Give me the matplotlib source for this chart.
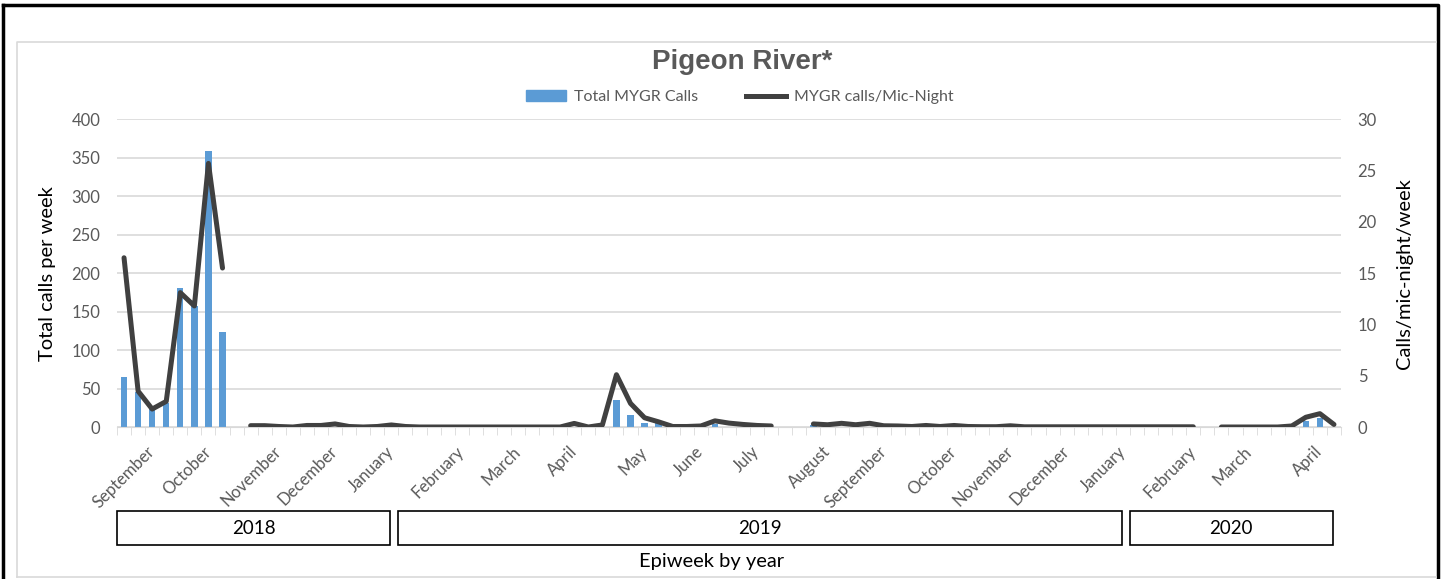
import numpy as np
import matplotlib
matplotlib.use('Agg')
import matplotlib.pyplot as plt
from matplotlib.patches import Rectangle
from matplotlib.lines import Line2D
from matplotlib.transforms import blended_transform_factory

nan = np.nan
# weekly series, Sept 2018 .. Apr 2020 (87 epiweeks), nan = no recording
total_calls = [65, 46, 25, 31, 181, 157, 359, 124, nan,
               0, 0, 0, 0, 0, 0, 0, 0, 0, 0, 0, 0, 0, 0, 0, 0, 0, 0, 0, 0, 0, 0, 0, 0, 0, 0,
               35, 16, 5, 5, 0, 0, 0, 4, 0, 0, 0, 0, nan, nan,
               2, 0, 0, 0, 0, 0, 0, 0, 0, 0, 0, 0, 0, 0, 0, 0, 0, 0, 0, 0, 0, 0, 0, 0, 0, 0, 0, 0, nan,
               0, 0, 0, 0, 0, 0, 8, 12, 0]
calls_per_mic_night = [16.5, 3.5, 1.75, 2.5, 13.1, 11.8, 25.7, 15.5, nan,
                       0.13, 0.13, 0.05, 0.0, 0.15, 0.15, 0.3, 0.05, 0.0, 0.05, 0.2, 0.05,
                       0, 0, 0, 0, 0, 0, 0, 0, 0, 0, 0, 0.35, 0.0, 0.2,
                       5.1, 2.3, 0.9, 0.5, 0.05, 0.05, 0.1, 0.6, 0.38, 0.25, 0.15, 0.1, nan, nan,
                       0.3, 0.22, 0.36, 0.22, 0.36, 0.12, 0.1, 0.05, 0.15, 0.05, 0.15, 0.05, 0.03, 0.03,
                       0.12, 0.02, 0.02, 0.02, 0.02, 0.02, 0.02, 0.02, 0.02, 0.02, 0.02, 0.02, 0.02, 0.02, nan,
                       0, 0, 0, 0, 0, 0.1, 0.95, 1.3, 0.25]
month_labels = ['September', 'October', 'November', 'December', 'January', 'February', 'March',
                'April', 'May', 'June', 'July', 'August', 'September', 'October', 'November',
                'December', 'January', 'February', 'March', 'April']
month_week = [2, 6, 11, 15, 19, 24, 28, 32, 37, 41, 45, 50, 54, 59, 63, 67, 71, 76, 80, 85]
years = ['2018', '2019', '2020']
year_first = [0, 20, 72]
year_last = [19, 71, 86]

plt.rcParams['font.family'] = ['Lato', 'DejaVu Sans']
GRAY = '#595959'
BLUE = '#5b9bd5'
LINE = '#404040'

weeks = np.arange(len(total_calls))
fig = plt.figure(figsize=(14.42, 5.79), dpi=100)
ax = fig.add_axes([117/1442, 1-427/579, (1341-117)/1442, (427-119.3)/579])
ax2 = ax.twinx()

ax.bar(weeks, total_calls, width=0.45, color=BLUE, zorder=2)
ax2.plot(weeks, calls_per_mic_night, color=LINE, lw=3.6, solid_capstyle='round',
         solid_joinstyle='round', zorder=3)

ax.set_xlim(-0.5, len(weeks)-0.5)
ax.set_ylim(0, 400); ax2.set_ylim(0, 30)
ax.set_yticks(range(0, 401, 50)); ax2.set_yticks(range(0, 31, 5))
ax.yaxis.grid(True, color='#d9d9d9', lw=1.2, zorder=0); ax.set_axisbelow(True)
for a in (ax, ax2):
    for s in a.spines.values(): s.set_visible(False)
    a.tick_params(axis='y', length=0, labelsize=12, labelcolor=GRAY)
ax.spines['bottom'].set_visible(True); ax.spines['bottom'].set_color('#d9d9d9')
ax.tick_params(axis='y', pad=12); ax2.tick_params(axis='y', pad=12)

ax.set_xticks(np.arange(len(weeks)+1)-0.5, minor=True)
ax.tick_params(axis='x', which='minor', length=6, color='#d9d9d9', direction='out')
ax.set_xticks(month_week)
ax.set_xticklabels(month_labels, rotation=45, ha='right', va='center', rotation_mode='anchor',
                   fontsize=12, color=GRAY)
ax.tick_params(axis='x', which='major', length=0, pad=16)

ax.set_ylabel('Total calls per week', fontsize=14.5, labelpad=11)
ax2.set_ylabel('Calls/mic-night/week', fontsize=14.5, labelpad=14)

tr = blended_transform_factory(ax.transData, fig.transFigure)
for yr, f, l in zip(years, year_first, year_last):
    x0, x1 = f-0.5, l+0.5-0.6
    ax.add_patch(Rectangle((x0, 1-545/579), x1-x0, 34/579, transform=tr, fill=False,
                           ec='black', lw=1.2, clip_on=False))
    ax.text((x0+x1)/2, 1-528/579, yr, transform=tr, ha='center', va='center', fontsize=13.5)
fig.text(712/1442, 1-561/579, 'Epiweek by year', ha='center', va='center', fontsize=14.5)

fig.text(742/1442, 1-62/579, 'Pigeon River*', ha='center', va='center', fontsize=20,
         fontweight='bold', color=GRAY, family=['Liberation Sans', 'DejaVu Sans'])
handles = [Rectangle((0, 0), 1, 1, color=BLUE), Line2D([], [], color=LINE, lw=3.6)]
fig.legend(handles, ['Total MYGR Calls', 'MYGR calls/Mic-Night'], loc='center',
           bbox_to_anchor=(740/1442, 1-97/579), ncol=2, frameon=False, fontsize=11.5,
           labelcolor=GRAY, handlelength=2.5, columnspacing=3, handletextpad=0.5)

# frames
fig.add_artist(Line2D([3/1442, 1438/1442, 1438/1442], [1-5/579, 1-5/579, 0], color='black',
                      lw=2.5, transform=fig.transFigure))
fig.add_artist(Line2D([3/1442, 3/1442], [0, 1-5/579], color='black', lw=2.5,
                      transform=fig.transFigure))
fig.add_artist(Line2D([17/1442, 17/1442, 1436/1442], [2/579, 1-42/579, 1-42/579],
                      color='#d9d9d9', lw=1.2, transform=fig.transFigure))
fig.add_artist(Line2D([17/1442, 1436/1442], [2/579, 2/579], color='#d9d9d9', lw=1.2,
                      transform=fig.transFigure))

fig.savefig('out.png', dpi=100)
